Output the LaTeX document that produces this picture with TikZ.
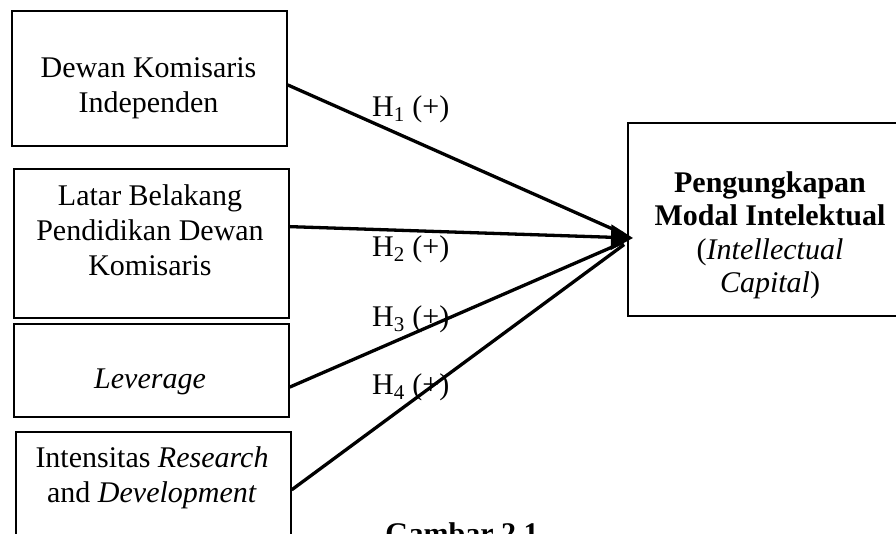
\documentclass[tikz,border=0pt]{standalone}
\usepackage{fontspec}
\setmainfont{Liberation Serif}
\usetikzlibrary{arrows.meta,calc}
\begin{document}
\begin{tikzpicture}[x=1pt,y=-1pt,
  box/.style={draw, line width=1.7pt, inner sep=0pt, anchor=north west},
  conn/.style={line width=3.3pt},
  txt/.style={align=center, inner sep=0pt, anchor=base, font=\fontsize{30}{35}\selectfont},
  hyp/.style={anchor=base west, inner sep=0pt, font=\fontsize{30}{35}\selectfont}]
\useasboundingbox (0,0) rectangle (896,533);
\clip (0,0) rectangle (896,533);
% boxes
\node[box, minimum width=275pt, minimum height=135pt] (b1) at (11,10) {};
\node[box, minimum width=275pt, minimum height=149pt] (b2) at (13,168) {};
\node[box, minimum width=275pt, minimum height=93pt] (b3) at (13,323) {};
\node[box, minimum width=275pt, minimum height=129pt] (b4) at (15,431) {};
\node[box, minimum width=286pt, minimum height=193pt] (dv) at (627,122) {};
% texts (base anchor = baseline of the last line)
\node[txt] (t1) at (148.5,112) {Dewan Komisaris\\Independen};
\node[txt] (t2) at (150,275) {Latar Belakang\\Pendidikan Dewan\\Komisaris};
\node[txt] (t3) at (150,388) {\textit{Leverage}};
\node[txt] (t4) at (152,502) {Intensitas \textit{Research}\\and \textit{Development}};
\node[txt, font=\fontsize{30}{33.5}\selectfont] (t5) at (770,292.5) {\textbf{Pengungkapan}\\\textbf{Modal Intelektual}\\(\textit{Intellectual}\\\textit{Capital})};
\node[txt, font=\fontsize{30}{35}\selectfont\bfseries] (cap) at (462,543) {Gambar 2.1};
% connectors
\coordinate (tip) at (633,238);
\coordinate (s1) at ($(b1.north east)!0.548!(b1.south east)$);
\coordinate (s2) at ($(b2.north east)!0.389!(b2.south east)$);
\coordinate (s3) at ($(b3.north east)!0.677!(b3.south east)$);
\coordinate (s4) at ($(b4.north east)!0.45!(b4.south east)$);
\draw[conn, shorten >=11pt] (s1) -- (tip);
\draw[conn, shorten >=11pt] (s3) -- (tip);
\draw[conn, shorten >=11pt] (s4) -- (tip);
\draw[conn, -{Triangle[length=22pt,width=25pt]}] (s2) -- (tip);
% labels
\node[hyp] (h1) at (372,116) {H\textsubscript{1} (+)};
\node[hyp] (h2) at (372,256) {H\textsubscript{2} (+)};
\node[hyp] (h3) at (372,326) {H\textsubscript{3} (+)};
\node[hyp] (h4) at (372,394) {H\textsubscript{4} (+)};
\end{tikzpicture}
\end{document}
